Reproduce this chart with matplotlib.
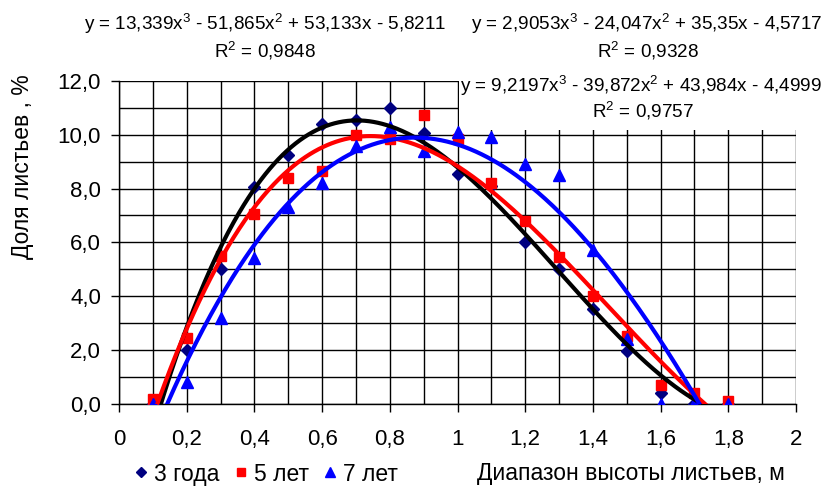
import numpy as np
import matplotlib
matplotlib.use("Agg")
import matplotlib.pyplot as plt
from matplotlib.patches import Rectangle
from matplotlib.lines import Line2D
from matplotlib.ticker import MultipleLocator, FuncFormatter

plt.rcParams['font.family'] = ['Liberation Sans', 'DejaVu Sans']
plt.rcParams['mathtext.fontset'] = 'custom'
plt.rcParams['mathtext.rm'] = 'Liberation Sans'
plt.rcParams['mathtext.it'] = 'Liberation Sans:italic'
plt.rcParams['mathtext.bf'] = 'Liberation Sans:bold'

# Height ranges of the leaves, m
heights = [0.1, 0.2, 0.3, 0.4, 0.5, 0.6, 0.7, 0.8, 0.9,
           1.0, 1.1, 1.2, 1.3, 1.4, 1.5, 1.6, 1.7, 1.8]

# Share of leaves in each range, %
share_3y = [0.0, 2.0, 5.0, 8.05, 9.25, 10.4, 10.55, 11.0, 10.05,
            8.55, 8.1, 6.0, 5.0, 3.5, 1.95, 0.4, 0.0, 0.0]
share_5y = [0.15, 2.45, 5.5, 7.05, 8.4, 8.65, 10.0, 9.85, 10.75,
            9.85, 8.2, 6.8, 5.45, 4.0, 2.5, 0.7, 0.4, 0.1]
share_7y = [0.0, 0.8, 3.2, 5.4, 7.3, 8.2, 9.6, 10.3, 9.4,
            10.1, 9.9, 8.9, 8.5, 5.7, 2.4, 0.0, 0.0, 0.0]

series_names = ['3 года', '5 лет', '7 лет']

# Cubic trendline coefficients (x^3, x^2, x, 1) and R^2
coef_3y = [13.339, -51.865, 53.133, -5.8211]
coef_5y = [9.2197, -39.872, 43.984, -4.4999]
coef_7y = [2.9053, -24.047, 35.35, -4.5717]
r2_3y, r2_5y, r2_7y = 0.9848, 0.9757, 0.9328

W, H = 827, 486
fig = plt.figure(figsize=(W / 100, H / 100), dpi=100)
fig.patch.set_facecolor('white')


def fx(px):
    return px / W


def fy(px):
    return 1 - px / H


ax = fig.add_axes([fx(119), fy(403.5), (796 - 119) / W, (403.5 - 81) / H])
ax.set_xlim(0, 2)
ax.set_ylim(0, 12)
ax.set_axisbelow(True)

ax.xaxis.set_major_locator(MultipleLocator(0.2))
ax.xaxis.set_minor_locator(MultipleLocator(0.1))
ax.yaxis.set_major_locator(MultipleLocator(2))
ax.yaxis.set_minor_locator(MultipleLocator(1))
ax.grid(which='both', color='black', linewidth=1.0)


def fmt_x(v, _):
    if abs(v - round(v)) < 1e-9:
        return f"{int(round(v))}"
    return f"{v:.1f}".replace('.', ',')


def fmt_y(v, _):
    return f"{v:.1f}".replace('.', ',')


ax.xaxis.set_major_formatter(FuncFormatter(fmt_x))
ax.yaxis.set_major_formatter(FuncFormatter(fmt_y))
ax.tick_params(which='major', length=5.5, width=1.0, color='black',
               labelsize=16, labelcolor='black')
ax.tick_params(axis='x', which='major', pad=12.5)
ax.tick_params(axis='y', which='major', pad=7.5)
ax.tick_params(which='minor', length=0)

for side in ('top', 'right'):
    ax.spines[side].set_visible(False)
for side in ('left', 'bottom'):
    ax.spines[side].set_linewidth(1.0)
    ax.spines[side].set_color('black')

# White label area in the upper right corner of the plot
ax.add_patch(Rectangle((1.004, 10.18), 1.2, 2.5, facecolor='white',
                       edgecolor='none', zorder=1.5, clip_on=False))

# Data points
ax.plot(heights, share_3y, linestyle='none', marker='D', markersize=6,
        color='#000080', zorder=3, label=series_names[0])
ax.plot(heights, share_5y, linestyle='none', marker='s', markersize=6.5,
        color='#FF0000', zorder=3.1, label=series_names[1])
ax.plot(heights, share_7y, linestyle='none', marker='^', markersize=8,
        color='#0000FF', zorder=3.2, label=series_names[2])

# Polynomial trendlines
xs = np.linspace(min(heights), max(heights), 400)
ax.plot(xs, np.polyval(coef_3y, xs), color='black', lw=3.0, zorder=4)
ax.plot(xs, np.polyval(coef_5y, xs), color='#FF0000', lw=3.0, zorder=4.1)
ax.plot(xs, np.polyval(coef_7y, xs), color='#0000FF', lw=3.0, zorder=4.2)


def num(v):
    return f"{abs(v):g}".replace('.', ',')


def sup(d):
    return r"$^{\mathregular{" + d + "}}$"


def equation(c):
    s = f"y = {num(c[0])}x" + sup('3')
    for val, pw in zip(c[1:], ['x' + sup('2'), 'x', '']):
        s += (" - " if val < 0 else " + ") + num(val) + pw
    return s


def r2_text(r):
    return "R" + sup('2') + f" = {r:.4f}".replace('.', ',')


eq_size = 13.6
fig.text(fx(265), fy(30.5), equation(coef_3y), ha='center', va='baseline',
         fontsize=eq_size)
fig.text(fx(265), fy(57), r2_text(r2_3y), ha='center', va='baseline',
         fontsize=eq_size)
fig.text(fx(647), fy(30.5), equation(coef_7y), ha='center', va='baseline',
         fontsize=eq_size)
fig.text(fx(648), fy(57), r2_text(r2_7y), ha='center', va='baseline',
         fontsize=eq_size)
fig.text(fx(641), fy(92), equation(coef_5y), ha='center', va='baseline',
         fontsize=eq_size, zorder=5)
fig.text(fx(643), fy(118), r2_text(r2_5y), ha='center', va='baseline',
         fontsize=eq_size, zorder=5)

# Axis titles
fig.text(fx(23), fy(166.5), 'Доля листьев , %', rotation=90,
         ha='center', va='center', fontsize=16.5)
fig.text(fx(630.5), fy(480), 'Диапазон высоты листьев, м', ha='center',
         va='baseline', fontsize=16.5)

# Legend
handles = [
    Line2D([], [], linestyle='none', marker='D', markersize=5.5, color='#000080'),
    Line2D([], [], linestyle='none', marker='s', markersize=6, color='#FF0000'),
    Line2D([], [], linestyle='none', marker='^', markersize=7, color='#0000FF'),
]
fig.legend(handles, series_names, loc='center left',
           bbox_to_anchor=(fx(132), fy(474)), ncol=3, frameon=False,
           fontsize=16.5, handlelength=0.8, handletextpad=0.15,
           columnspacing=0.55, borderpad=0, borderaxespad=0)

fig.savefig('out.png', dpi=100, facecolor='white')
